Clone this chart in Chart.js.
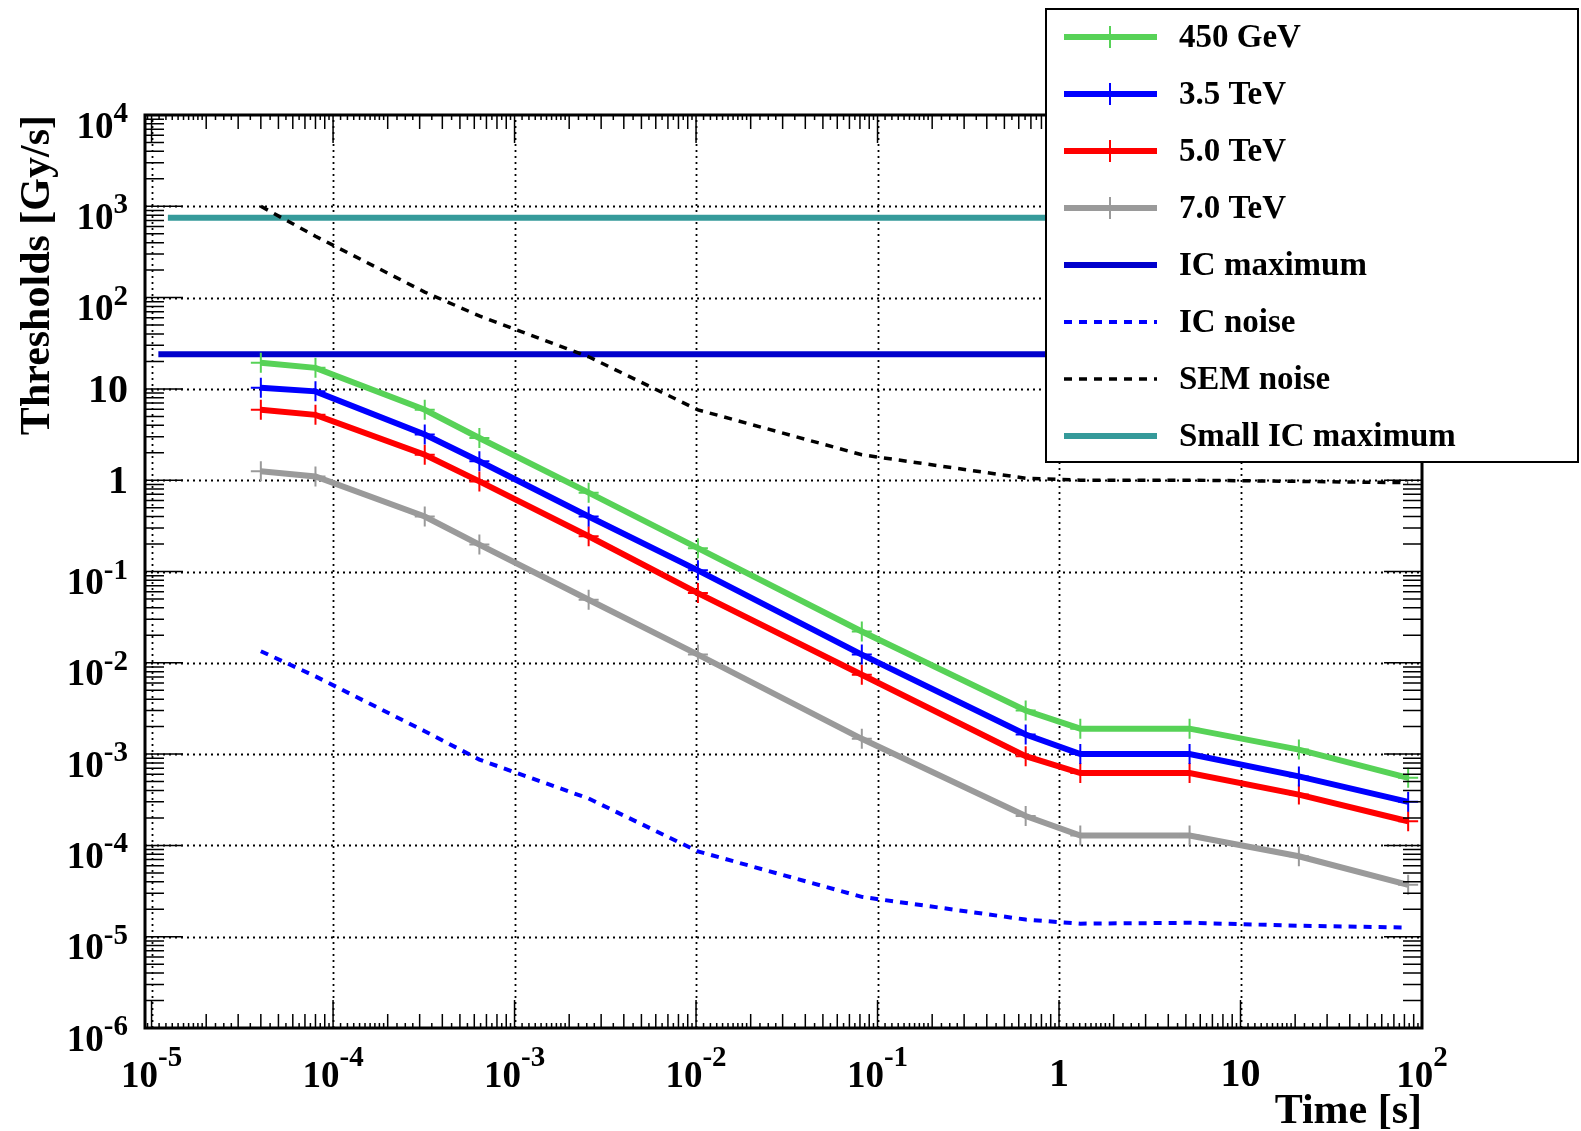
<!DOCTYPE html>
<html>
<head>
<meta charset="utf-8">
<script src="https://cdn.jsdelivr.net/npm/chart.js@4.4.1/dist/chart.umd.min.js"></script>
<style>
html,body{margin:0;padding:0;background:#fff;}
#wrap{width:1581px;height:1131px;position:relative;}
</style>
</head>
<body>
<div id="wrap"><canvas id="c" width="1581" height="1131"></canvas></div>
<script>
// ---- data ----
const times = [4e-5, 8e-5, 3.2e-4, 6.4e-4, 2.56e-3, 1.024e-2, 8.192e-2, 0.655, 1.31, 5.24, 20.97, 83.89];
const gev450 = [19.3, 17, 5.9, 2.9, 0.73, 0.18, 0.022, 0.0030, 0.0019, 0.0019, 0.00112, 0.00055];
const tev35  = [10.3, 9.4, 3.16, 1.61, 0.40, 0.103, 0.0123, 0.00164, 0.0010, 0.0010, 0.00057, 0.00030];
const tev50  = [5.9, 5.2, 1.9, 0.97, 0.243, 0.058, 0.0074, 0.00095, 0.00062, 0.00062, 0.00036, 0.000184];
const tev70  = [1.25, 1.1, 0.40, 0.197, 0.049, 0.0123, 0.00147, 0.00021, 0.000128, 0.000128, 0.000076, 0.000037];
const icNoise = [0.0134, 0.0071, 0.00178, 0.00087, 0.000326, 0.000086, 0.0000273, 0.0000154, 0.0000139, 0.0000142, 0.0000132, 0.0000126];
const semNoise = [1000, 470, 115, 63, 22.5, 5.9, 1.9, 1.05, 1.0, 1.0, 0.97, 0.94];
const icMaxTimes = [1.09e-5, 100];
const icMax = [24, 24];
const smallIcTimes = [1.23e-5, 100];
const smallIcMax = [747, 747];

const xTickValues = [1e-5, 1e-4, 1e-3, 1e-2, 1e-1, 1, 10, 100];
const xTickLabels = ['10^-5', '10^-4', '10^-3', '10^-2', '10^-1', '1', '10', '10^2'];
const yTickValues = [1e-6, 1e-5, 1e-4, 1e-3, 1e-2, 1e-1, 1, 10, 100, 1000, 10000];
const yTickLabels = ['10^-6', '10^-5', '10^-4', '10^-3', '10^-2', '10^-1', '1', '10', '10^2', '10^3', '10^4'];

// ---- styles ----
const FONT = "'Liberation Serif', 'Times New Roman', 'DejaVu Serif', serif";
const GREEN = '#57d257', BLUE = '#0000ff', RED = '#ff0000', GRAY = '#9a9a9a';
const DARKBLUE = '#0000cc', TEAL = '#359a9a';

const pts = (xs, ys) => xs.map((x, i) => ({x: x, y: ys[i]}));

function seriesDS(label, ys, color, order) {
  return {label, data: pts(times, ys), borderColor: color, backgroundColor: color,
    borderWidth: 6, pointStyle: 'cross', pointRadius: 10, pointBorderWidth: 2,
    pointBorderColor: color, order, legendCross: true};
}

const datasets = [
  seriesDS('450 GeV', gev450, GREEN, 2),
  seriesDS('3.5 TeV', tev35, BLUE, 3),
  seriesDS('5.0 TeV', tev50, RED, 4),
  seriesDS('7.0 TeV', tev70, GRAY, 5),
  {label: 'IC maximum', data: pts(icMaxTimes, icMax), borderColor: DARKBLUE, backgroundColor: DARKBLUE,
   borderWidth: 6, pointRadius: 0, order: 6},
  {label: 'IC noise', data: pts(times, icNoise), borderColor: BLUE, backgroundColor: BLUE,
   borderWidth: 4, borderDash: [8, 7], pointRadius: 0, order: 1},
  {label: 'SEM noise', data: pts(times, semNoise), borderColor: '#000', backgroundColor: '#000',
   borderWidth: 3.5, borderDash: [8, 7], pointRadius: 0, order: 0},
  {label: 'Small IC maximum', data: pts(smallIcTimes, smallIcMax), borderColor: TEAL, backgroundColor: TEAL,
   borderWidth: 6, pointRadius: 0, order: 7}
];

function decadeMinors(min, max) {
  const out = [];
  for (let n = Math.floor(Math.log10(min)); n <= Math.ceil(Math.log10(max)); n++) {
    for (let k = 2; k <= 9; k++) {
      const v = k * Math.pow(10, n);
      if (v > min && v < max) out.push(v);
    }
  }
  return out;
}
function tinyTicks(min, max) {
  const out = [];
  const fr = [1.1,1.2,1.3,1.4,1.5,1.6,1.7,1.8,1.9,2.25,2.5,2.75,3.5,4.5,5.5,6.5,7.5,8.5,9.5];
  for (let n = Math.floor(Math.log10(min)); n <= Math.ceil(Math.log10(max)); n++) {
    fr.forEach(f => { const v = f * Math.pow(10, n); if (v > min && v < max) out.push(v); });
  }
  return out;
}

const BASE_FONT = "bold 37px " + FONT;
const EXP_FONT = "bold 29px " + FONT;
const PLAIN_FONT = "bold 40px " + FONT;

function drawYLabel(ctx, label, py, right) {
  const parts = label.split('^');
  ctx.textAlign = 'left';
  ctx.textBaseline = 'alphabetic';
  if (parts.length === 2) {
    ctx.font = EXP_FONT; const wE = ctx.measureText(parts[1]).width;
    ctx.font = BASE_FONT; const wB = ctx.measureText(parts[0]).width;
    ctx.fillText(parts[0], right - wE - wB, py + 22.5);
    ctx.font = EXP_FONT; ctx.fillText(parts[1], right - wE, py + 7);
  } else {
    ctx.font = PLAIN_FONT; const w = ctx.measureText(label).width;
    ctx.fillText(label, right - w, py + 13);
  }
}
function drawXLabel(ctx, label, px, base) {
  const parts = label.split('^');
  ctx.textAlign = 'left';
  ctx.textBaseline = 'alphabetic';
  if (parts.length === 2) {
    ctx.font = EXP_FONT; const wE = ctx.measureText(parts[1]).width;
    ctx.font = BASE_FONT; const wB = ctx.measureText(parts[0]).width;
    const left = px - (wB + wE) / 2;
    ctx.fillText(parts[0], left, base + 59);
    ctx.font = EXP_FONT; ctx.fillText(parts[1], left + wB, base + 38);
  } else {
    ctx.font = PLAIN_FONT; const w = ctx.measureText(label).width;
    ctx.fillText(label, px - w / 2, base + 58);
  }
}

const frame = {
  id: 'frame',
  beforeDraw(chart) {
    const ctx = chart.ctx;
    ctx.save(); ctx.fillStyle = '#fff'; ctx.fillRect(0, 0, chart.width, chart.height); ctx.restore();
  },
  beforeDatasetsDraw(chart) {
    const {ctx, chartArea: a, scales: {x, y}} = chart;
    ctx.save();
    ctx.strokeStyle = '#000'; ctx.lineWidth = 1.8; ctx.setLineDash([2, 4]);
    x.ticks.forEach(t => {
      const px = Math.round(x.getPixelForValue(t.value)) + 0.5;
      if (px > a.left + 3 && px < a.right - 3) {
        ctx.beginPath(); ctx.moveTo(px, a.bottom); ctx.lineTo(px, a.top); ctx.stroke();
      }
    });
    y.ticks.forEach(t => {
      const py = Math.round(y.getPixelForValue(t.value)) + 0.5;
      if (py > a.top + 3 && py < a.bottom - 3) {
        ctx.beginPath(); ctx.moveTo(a.left, py); ctx.lineTo(a.right, py); ctx.stroke();
      }
    });
    ctx.restore();
  },
  afterDatasetsDraw(chart) {
    const {ctx, chartArea: a, scales: {x, y}} = chart;
    ctx.save();
    ctx.setLineDash([]);
    ctx.strokeStyle = '#000';
    ctx.lineWidth = 1.5;
    const xt = (v, len) => {
      const px = x.getPixelForValue(v);
      ctx.beginPath(); ctx.moveTo(px, a.bottom); ctx.lineTo(px, a.bottom - len);
      ctx.moveTo(px, a.top); ctx.lineTo(px, a.top + len); ctx.stroke();
    };
    x.ticks.forEach(t => xt(t.value, 28));
    decadeMinors(x.min, x.max).forEach(v => xt(v, 14));
    tinyTicks(x.min, x.max).forEach(v => xt(v, 5));
    const yt = (v, len) => {
      const py = y.getPixelForValue(v);
      ctx.beginPath(); ctx.moveTo(a.left, py); ctx.lineTo(a.left + len, py);
      ctx.moveTo(a.right, py); ctx.lineTo(a.right - len, py); ctx.stroke();
    };
    y.ticks.forEach(t => yt(t.value, 38));
    decadeMinors(y.min, y.max).forEach(v => yt(v, 19));
    ctx.lineWidth = 3;
    ctx.strokeRect(a.left, a.top, a.right - a.left, a.bottom - a.top);
    // tick labels, placed through the scales
    ctx.fillStyle = '#000';
    x.ticks.forEach((t, i) => drawXLabel(ctx, xTickLabels[i], x.getPixelForValue(t.value), a.bottom));
    y.ticks.forEach((t, i) => drawYLabel(ctx, yTickLabels[i], y.getPixelForValue(t.value), a.left - 17));
    ctx.restore();
  },
  afterDraw(chart) {
    const ctx = chart.ctx;
    const L = {x: 1046, y: 9, w: 532, h: 453};
    ctx.save();
    ctx.fillStyle = '#fff';
    ctx.fillRect(L.x, L.y, L.w, L.h);
    ctx.strokeStyle = '#000'; ctx.lineWidth = 2;
    ctx.strokeRect(L.x, L.y, L.w, L.h);
    chart.data.datasets.forEach((ds, i) => {
      const ry = 37 + i * 57.0;
      ctx.save();
      ctx.strokeStyle = ds.borderColor;
      ctx.lineWidth = ds.borderWidth;
      ctx.setLineDash(ds.borderDash || []);
      ctx.beginPath(); ctx.moveTo(1064, ry); ctx.lineTo(1157, ry); ctx.stroke();
      if (ds.legendCross) {
        ctx.setLineDash([]); ctx.lineWidth = 2;
        ctx.beginPath(); ctx.moveTo(1110, ry - 11); ctx.lineTo(1110, ry + 11); ctx.stroke();
      }
      ctx.restore();
      ctx.fillStyle = '#000';
      ctx.font = "bold 33px " + FONT;
      ctx.textBaseline = 'middle';
      ctx.textAlign = 'left';
      ctx.fillText(ds.label, 1179, ry + 1);
    });
    ctx.restore();
  }
};

new Chart(document.getElementById('c'), {
  type: 'line',
  data: {datasets},
  options: {
    responsive: false,
    animation: false,
    devicePixelRatio: 1,
    layout: {padding: {top: 115, right: 159, bottom: 0, left: 0}},
    plugins: {legend: {display: false}, tooltip: {enabled: false}},
    elements: {line: {tension: 0}},
    scales: {
      x: {
        type: 'logarithmic', min: 9.2e-6, max: 100,
        grid: {display: false}, border: {display: false},
        afterBuildTicks: s => { s.ticks = xTickValues.map(v => ({value: v})); },
        afterFit: s => { s.height = 103; },
        ticks: {display: false, autoSkip: false, maxRotation: 0,
          callback: (v, i) => xTickLabels[i].replace('^', '')},
        title: {display: true, text: 'Time [s]', align: 'end', color: '#000',
          font: {family: FONT, size: 42, weight: 'bold', lineHeight: 1.2}, padding: {top: 0, bottom: -6}}
      },
      y: {
        type: 'logarithmic', min: 1e-6, max: 1e4,
        grid: {display: false}, border: {display: false},
        afterBuildTicks: s => { s.ticks = yTickValues.map(v => ({value: v})); },
        afterFit: s => { s.width = 145; },
        ticks: {display: false, autoSkip: false,
          callback: (v, i) => yTickLabels[i].replace('^', '')},
        title: {display: true, text: 'Thresholds [Gy/s]', align: 'end', color: '#000',
          font: {family: FONT, size: 42, weight: 'bold', lineHeight: 1.2}, padding: {top: 13, bottom: 0}}
      }
    }
  },
  plugins: [frame]
});
</script>
</body>
</html>
